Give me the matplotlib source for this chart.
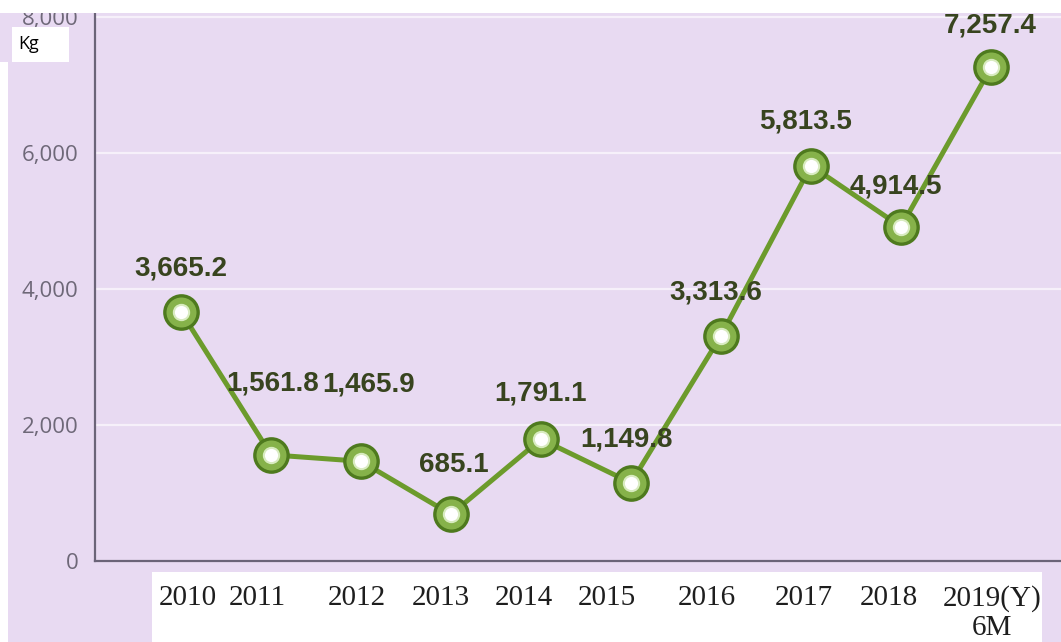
import matplotlib
matplotlib.use("Agg")
import matplotlib.pyplot as plt
from matplotlib.patches import Rectangle

# ---- data ----
years = ["2010", "2011", "2012", "2013", "2014", "2015", "2016", "2017", "2018", "2019(Y)\n6M"]
values = [3665.2, 1561.8, 1465.9, 685.1, 1791.1, 1149.8, 3313.6, 5813.5, 4914.5, 7257.4]
yticks = [0, 2000, 4000, 6000, 8000]
unit = "Kg"

# ---- layout / style ----
W, H = 1061, 642
DPI = 100
bg = "#E8DAF2"
line_col = "#6C9B2C"
ring_dark = "#4E7A1E"
ring_light = "#86B24A"
label_col = "#38441F"
tick_col = "#6E6878"
spine_col = "#6B6478"

# label offsets (pixels) relative to each point
lab_dx = [0, 2, 8, 3, 0, -4, -5, -5, -5, -1]
lab_dy = [43, 71, 77, 49, 46, 43, 43, 44, 40, 42]
# x pixel centres of the pasted category labels
xlab_px = [188, 257, 357, 441, 524, 607, 707, 804, 889, 992]

fig = plt.figure(figsize=(W / DPI, H / DPI), dpi=DPI)
fig.patch.set_facecolor(bg)

ax_l, ax_r, ax_t, ax_b = 95, 1061, 12, 561
ax = fig.add_axes([ax_l / W, (H - ax_b) / H, (ax_r - ax_l) / W, (ax_b - ax_t) / H])
ax.set_facecolor(bg)

x = list(range(len(values)))
px_per_unit = (561 - 17) / 8000.0
ax.set_ylim(0, 8000 + (17 - 12) / px_per_unit)
x0, dx = 181, 90
ax.set_xlim((ax_l - x0) / dx, (ax_r - x0) / dx)

ax.set_yticks(yticks)
ax.set_yticklabels([f"{t:,}" for t in yticks], fontsize=16, color=tick_col,
                   fontfamily=["Open Sans", "DejaVu Sans"])
ax.tick_params(axis="y", length=0, pad=12)
ax.set_xticks([])

for t in yticks[1:]:
    ax.axhline(t, color="#F6F0FA", lw=1.6, zorder=1)

for s in ["top", "right"]:
    ax.spines[s].set_visible(False)
for s in ["left", "bottom"]:
    ax.spines[s].set_color(spine_col)
    ax.spines[s].set_linewidth(1.6)

ax.plot(x, values, color=line_col, lw=3.6, zorder=3, solid_capstyle="round")
ax.plot(x, values, "o", ms=24, mfc=ring_light, mec=ring_dark, mew=2.4, zorder=4, linestyle="none")
ax.plot(x, values, "o", ms=11, mfc="white", mec="#D8EBC0", mew=1.5, zorder=5, linestyle="none")

for i, v in enumerate(values):
    ax.annotate(f"{v:,.1f}", (x[i], v), xytext=(lab_dx[i], lab_dy[i]),
                textcoords="offset pixels", ha="center", va="center",
                fontsize=20, fontweight="bold", color=label_col,
                fontfamily=["Liberation Sans", "DejaVu Sans"], zorder=12)

# white strips at top and left edge (drawn over the axes)
fig.patches.append(Rectangle((0, (H - 13) / H), 1, 13 / H, transform=fig.transFigure,
                             facecolor="white", edgecolor="none", zorder=10))
fig.patches.append(Rectangle((0, 0), 8 / W, (H - 62) / H, transform=fig.transFigure,
                             facecolor="white", edgecolor="none", zorder=10))

# Kg box
fig.patches.append(Rectangle((12 / W, (H - 62) / H), 57 / W, 35 / H, transform=fig.transFigure,
                             facecolor="white", edgecolor="none", zorder=10))
fig.text(18 / W, (H - 44) / H, unit, fontsize=13, color="black", va="center", ha="left",
         fontfamily=["Open Sans", "DejaVu Sans"], zorder=11)

# category label box
fig.patches.append(Rectangle((152 / W, 0), (1042 - 152) / W, (H - 572) / H, transform=fig.transFigure,
                             facecolor="white", edgecolor="none", zorder=10))
for lab, xp in zip(years, xlab_px):
    fig.text(xp / W, (H - 585) / H, lab, fontsize=21, color="#1E1E1E", ha="center", va="top",
             fontfamily=["Liberation Serif", "DejaVu Serif"], linespacing=1.15, zorder=11)

fig.savefig("out.png", dpi=DPI, facecolor=fig.get_facecolor())
